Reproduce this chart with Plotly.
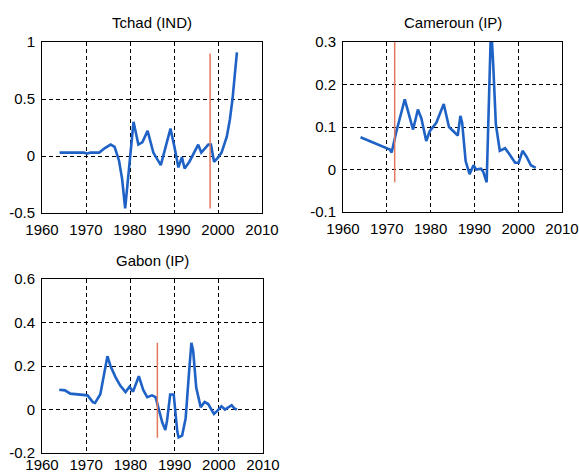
import plotly.graph_objects as go

# ---- Series (year, value) ----
tchad_years = [1964.0, 1966.0, 1968.0, 1969.5, 1970.2, 1971.0, 1973.0, 1974.3, 1975.6,
               1976.5, 1977.5, 1978.2, 1978.9, 1980.8, 1981.9, 1982.8, 1984.0, 1985.3,
               1987.0, 1989.2, 1990.1, 1991.0, 1991.8, 1992.4, 1993.5, 1994.5, 1995.5,
               1996.2, 1997.8, 1998.4, 1999.1, 1999.9, 2000.8, 2002.0, 2002.7, 2003.3,
               2004.3]
tchad_values = [0.03, 0.03, 0.03, 0.03, 0.02, 0.03, 0.03, 0.07, 0.10,
                0.08, -0.04, -0.20, -0.46, 0.30, 0.10, 0.12, 0.22, 0.03,
                -0.08, 0.24, 0.08, -0.10, -0.01, -0.11, -0.05, 0.03, 0.10,
                0.03, 0.10, 0.10, -0.05, -0.02, 0.03, 0.17, 0.32, 0.50,
                0.91]

cameroun_years = [1964.0, 1970.7, 1971.1, 1972.2, 1974.1, 1976.0, 1977.1, 1977.9, 1979.0,
                  1979.8, 1981.3, 1983.0, 1984.2, 1985.5, 1986.2, 1986.8, 1987.2, 1988.0,
                  1988.9, 1989.8, 1990.4, 1991.5, 1992.0, 1992.8, 1993.2, 1993.8, 1994.3,
                  1994.9, 1995.8, 1997.0, 1998.0, 1999.3, 2000.1, 2001.0, 2001.9, 2002.9,
                  2004.0]
cameroun_values = [0.076, 0.047, 0.040, 0.090, 0.165, 0.094, 0.141, 0.120, 0.067,
                   0.090, 0.110, 0.154, 0.100, 0.087, 0.080, 0.126, 0.110, 0.020,
                   -0.011, 0.010, 0.000, 0.002, -0.005, -0.030, 0.130, 0.340, 0.246,
                   0.106, 0.044, 0.050, 0.036, 0.016, 0.016, 0.044, 0.030, 0.010,
                   0.004]

gabon_years = [1963.9, 1965.2, 1966.4, 1967.9, 1969.8, 1970.3, 1971.5, 1972.0, 1973.2,
               1974.8, 1975.5, 1976.6, 1977.7, 1978.9, 1979.8, 1980.6, 1981.9, 1982.9,
               1983.8, 1984.9, 1985.7, 1986.4, 1987.2, 1987.9, 1988.3, 1989.0, 1989.8,
               1990.6, 1990.9, 1991.7, 1992.5, 1993.3, 1993.8, 1994.2, 1994.9, 1995.9,
               1996.8, 1997.6, 1998.9, 1999.7, 2000.6, 2001.4, 2002.1, 2002.9, 2003.5,
               2004.1]
gabon_values = [0.091, 0.088, 0.073, 0.070, 0.065, 0.065, 0.034, 0.030, 0.070,
                0.245, 0.200, 0.150, 0.110, 0.080, 0.105, 0.082, 0.153, 0.090,
                0.057, 0.065, 0.057, 0.003, -0.059, -0.094, -0.050, 0.069, 0.069,
                -0.100, -0.128, -0.120, -0.040, 0.180, 0.307, 0.270, 0.100, 0.011,
                0.035, 0.025, -0.020, -0.005, 0.015, 0.000, 0.010, 0.020, 0.005,
                0.000]

# Break dates (vertical markers): year, lower and upper extent
tchad_break = [1998.2, -0.46, 0.90]
cameroun_break = [1971.8, -0.03, 0.30]
gabon_break = [1986.1, -0.13, 0.307]

titles = ["Tchad (IND)", "Cameroun (IP)", "Gabon (IP)"]

x_ticks = [1960, 1970, 1980, 1990, 2000, 2010]
tchad_yticks = [-0.5, 0, 0.5, 1]
tchad_ylabels = ["-0.5", "0", "0.5", "1"]
cameroun_yticks = [-0.1, 0, 0.1, 0.2, 0.3]
cameroun_ylabels = ["-0.1", "0", "0.1", "0.2", "0.3"]
gabon_yticks = [-0.2, 0, 0.2, 0.4, 0.6]
gabon_ylabels = ["-0.2", "0", "0.2", "0.4", "0.6"]

W, H = 579, 472
BLUE = "#1F62C6"
RED = "#E2785E"
FONT = "Liberation Sans, Arial, sans-serif"

panels = [
    dict(years=tchad_years, values=tchad_values, brk=tchad_break,
         yticks=tchad_yticks, ylabels=tchad_ylabels, xstand=3,
         xdom=[42 / W, 262 / W], ydom=[1 - 213 / H, 1 - 42 / H]),
    dict(years=cameroun_years, values=cameroun_values, brk=cameroun_break,
         yticks=cameroun_yticks, ylabels=cameroun_ylabels, xstand=3,
         xdom=[343 / W, 562 / W], ydom=[1 - 212 / H, 1 - 42 / H]),
    dict(years=gabon_years, values=gabon_values, brk=gabon_break,
         yticks=gabon_yticks, ylabels=gabon_ylabels, xstand=-2,
         xdom=[42 / W, 263 / W], ydom=[1 - 453 / H, 1 - 279 / H]),
]

fig = go.Figure()
layout = dict(
    template="none",
    width=W, height=H,
    margin=dict(l=0, r=0, t=0, b=0, pad=0),
    paper_bgcolor="white", plot_bgcolor="white",
    showlegend=False,
    font=dict(family=FONT, size=15, color="black"),
    annotations=[],
)

for i, p in enumerate(panels, start=1):
    sfx = "" if i == 1 else str(i)
    xa, ya = "x" + sfx, "y" + sfx
    fig.add_trace(go.Scatter(x=p["years"], y=p["values"], mode="lines",
                             line=dict(color=BLUE, width=2.6),
                             xaxis=xa, yaxis=ya, cliponaxis=True))
    fig.add_trace(go.Scatter(x=[p["brk"][0], p["brk"][0]], y=[p["brk"][1], p["brk"][2]],
                             mode="lines", line=dict(color=RED, width=1.5),
                             xaxis=xa, yaxis=ya))
    common = dict(
        showgrid=True, gridcolor="black", griddash="4px,3px", gridwidth=1,
        showline=True, linecolor="black", linewidth=1, mirror=True,
        zeroline=False, ticks="", automargin=False,
        ticklabeloverflow="allow",
        tickfont=dict(size=15, family=FONT, color="black"),
    )
    layout["xaxis" + sfx] = dict(
        domain=p["xdom"], anchor=ya, range=[1960, 2010],
        tickvals=x_ticks, ticktext=[str(t) for t in x_ticks],
        ticklabelstandoff=p["xstand"], **common,
    )
    layout["yaxis" + sfx] = dict(
        domain=p["ydom"], anchor=xa, range=[p["yticks"][0], p["yticks"][-1]],
        tickvals=p["yticks"], ticktext=p["ylabels"],
        ticklabelstandoff=3, **common,
    )
    layout["annotations"].append(dict(
        text=titles[i - 1], xref="paper", yref="paper",
        x=sum(p["xdom"]) / 2, y=p["ydom"][1] + 19 / H,
        xanchor="center", yanchor="middle", showarrow=False,
        font=dict(size=15, family=FONT, color="black"),
    ))

fig.update_layout(**layout)
fig.write_html("out.html")
